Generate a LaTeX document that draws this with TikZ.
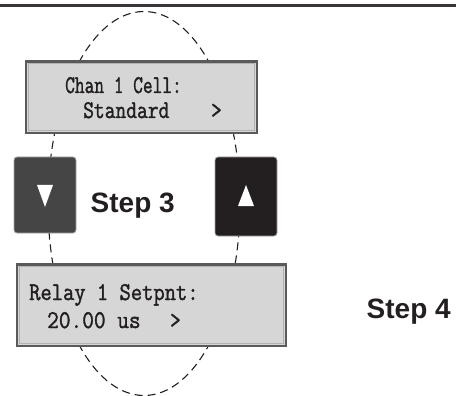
\documentclass[tikz,border=0pt]{standalone}
\usepackage{fontspec}
\usepackage{graphicx}
\newfontfamily\stepfont{Liberation Sans}
\newfontfamily\lcdfont[FakeBold=1.6]{Latin Modern Mono}
\newcommand\lcdtext[2]{\scalebox{#1}[1]{\fontsize{25.5}{25.5}\selectfont\lcdfont #2}}
\definecolor{lcdfill}{HTML}{D6D6D6}
\definecolor{lcdedge}{HTML}{5A5A5A}
\definecolor{inkc}{HTML}{231F20}
\definecolor{dnbtn}{HTML}{454545}
\definecolor{upbtn}{HTML}{231F20}
\tikzset{
  lcdbox/.style={draw=lcdedge, line width=1.2pt, fill=lcdfill, inner sep=0pt},
  btnbox/.style={draw=gray!70, line width=0.8pt, rounded corners=3pt, inner sep=0pt},
  lcdline/.style={anchor=base west, inner sep=0pt, text=inkc},
  steplabel/.style={anchor=base west, inner sep=0pt, text=inkc, font=\stepfont\bfseries\fontsize{28}{28}\selectfont},
  loopline/.style={dash pattern=on 8pt off 5pt, line width=1.1pt, color=inkc}
}
\begin{document}
\begin{tikzpicture}[x=1pt,y=-1pt]
\useasboundingbox (0,0) rectangle (456,396);
% top rule
\coordinate (rl) at (0,5.3);
\coordinate (rr) at (456,5.3);
\draw[line width=2.7pt, color=inkc!90] (rl) -- (rr);
% dashed loop
\coordinate (loopc) at (144,203.5);
\draw[loopline] (loopc) ellipse [x radius=96, y radius=192];
% LCD boxes
\node[lcdbox, minimum width=231pt, minimum height=72pt] (lcdtop) at (141.5,97) {};
\draw[lcdedge, line width=2.4pt] ([yshift=-1pt]lcdtop.north west) -- ([yshift=-1pt]lcdtop.north east);
\draw[gray!60, line width=0.6pt] ([shift={(3,3)}]lcdtop.north west) rectangle ([shift={(-3,-3)}]lcdtop.south east);
\node[lcdbox, minimum width=269pt, minimum height=82pt] (lcdbot) at (151.5,305) {};
\draw[lcdedge, line width=2.4pt] ([yshift=-1pt]lcdbot.north west) -- ([yshift=-1pt]lcdbot.north east);
\draw[gray!60, line width=0.6pt] ([shift={(3,3)}]lcdbot.north west) rectangle ([shift={(-3,-3)}]lcdbot.south east);
% LCD texts
\node[lcdline] (t1) at (65,93) {\lcdtext{0.74}{Chan 1 Cell:}};
\node[lcdline] (t2) at (83,118) {\lcdtext{0.82}{Standard}};
\node[lcdline] (t2b) at (211,118) {\lcdtext{0.8}{>}};
\node[lcdline] (t3) at (29,300) {\lcdtext{0.86}{Relay 1 Setpnt:}};
\node[lcdline] (t4) at (47,328) {\lcdtext{0.89}{20.00 us}};
\node[lcdline] (t4b) at (170,328) {\lcdtext{0.8}{>}};
% buttons
\node[btnbox, fill=dnbtn, minimum width=62pt, minimum height=76pt] (dn) at (45,195) {};
\fill[white] ([shift={(-8,-10)}]dn.center) -- ([shift={(8,-10)}]dn.center) -- ([shift={(0,12)}]dn.center) -- cycle;
\node[btnbox, fill=upbtn, minimum width=62pt, minimum height=79pt] (up) at (246,196.5) {};
\fill[white] ([shift={(-8,9.5)}]up.center) -- ([shift={(8,9.5)}]up.center) -- ([shift={(0,-11.5)}]up.center) -- cycle;
% step labels
\node[steplabel] (s3) at (90.5,212) {Step 3};
\node[steplabel] (s4) at (366.5,318) {Step 4};
\end{tikzpicture}
\end{document}
